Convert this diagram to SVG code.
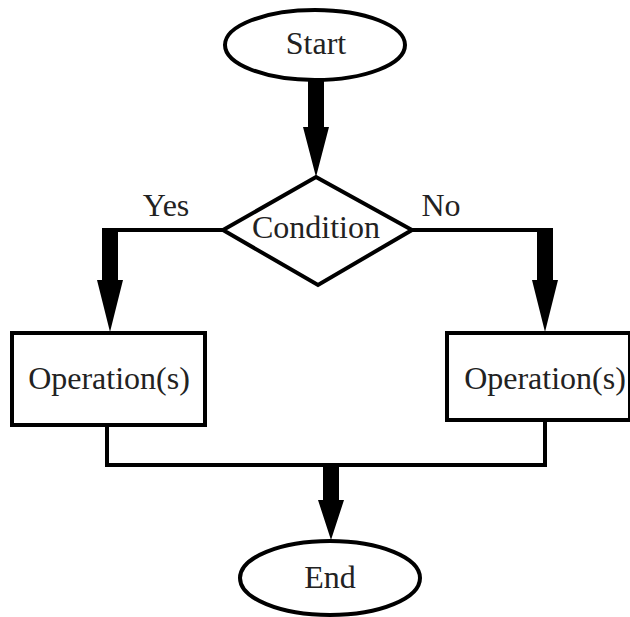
<svg xmlns="http://www.w3.org/2000/svg" width="630" height="617" viewBox="0 0 630 617">
<style>
.shape{fill:#fff;stroke:#000;stroke-width:4}
.line{fill:none;stroke:#000;stroke-width:4}
.thick{fill:#000;stroke:none}
.lbl{font-family:'Liberation Serif',serif;font-size:32px;fill:#222;text-anchor:middle}
</style>
<rect width="630" height="617" fill="#fff"/>
<g id="connectors">
<path class="thick" d="M308,81 H324 V127 H329 L316,177 L303,127 H308 Z"/>
<polyline class="line" points="223,230 103,230"/>
<path class="thick" d="M102,228 H118 V280 H123 L110,332 L97,280 H102 Z"/>
<polyline class="line" points="412,230 552,230"/>
<path class="thick" d="M537,228 H553 V280 H558 L545,332 L532,280 H537 Z"/>
<polyline class="line" points="107,425 107,465 545,465 545,420"/>
<path class="thick" d="M323,465 H339 V500 H344 L331,540 L318,500 H323 Z"/>
<text class="lbl" x="166" y="216">Yes</text>
<text class="lbl" x="441" y="216">No</text>
</g>
<g id="start">
<ellipse class="shape" cx="315" cy="45" rx="90" ry="35"/>
<text class="lbl" x="316" y="54">Start</text>
</g>
<g id="condition">
<polygon class="shape" points="316,177 412,230 318,285 223,230"/>
<text class="lbl" x="316" y="238">Condition</text>
</g>
<g id="op-yes">
<rect class="shape" x="12" y="333" width="193" height="92"/>
<text class="lbl" x="109" y="389">Operation(s)</text>
</g>
<g id="op-no">
<rect class="shape" x="447" y="333" width="183" height="87"/>
<text class="lbl" x="545" y="389">Operation(s)</text>
</g>
<g id="end">
<ellipse class="shape" cx="330" cy="578" rx="90" ry="37"/>
<text class="lbl" x="330" y="588">End</text>
</g>
</svg>
